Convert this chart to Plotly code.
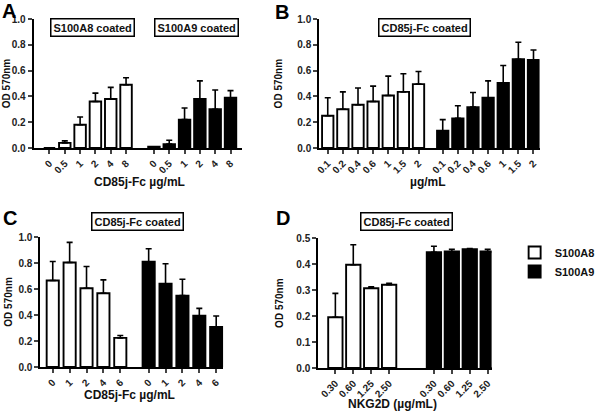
import plotly.graph_objects as go

W, H = 600, 411

# ---- data ----
a_labels = ["0", "0.5", "1", "2", "4", "8"]
a_s100a8 = [0, 0.04, 0.18, 0.36, 0.38, 0.49]
a_s100a8_err = [0, 0.015, 0.06, 0.065, 0.09, 0.055]
a_s100a9 = [0.01, 0.03, 0.22, 0.38, 0.30, 0.39]
a_s100a9_err = [0.0, 0.03, 0.09, 0.14, 0.15, 0.055]

b_labels = ["0.1", "0.2", "0.4", "0.6", "1", "1.5", "2"]
b_s100a8 = [0.25, 0.30, 0.335, 0.36, 0.407, 0.435, 0.495]
b_s100a8_err = [0.14, 0.135, 0.13, 0.12, 0.15, 0.14, 0.098]
b_s100a9 = [0.134, 0.23, 0.317, 0.39, 0.505, 0.688, 0.683]
b_s100a9_err = [0.086, 0.097, 0.113, 0.13, 0.135, 0.132, 0.077]

c_labels = ["0", "1", "2", "4", "6"]
c_s100a8 = [0.665, 0.804, 0.606, 0.567, 0.224]
c_s100a8_err = [0.147, 0.155, 0.167, 0.103, 0.018]
c_s100a9 = [0.81, 0.64, 0.549, 0.394, 0.309]
c_s100a9_err = [0.10, 0.154, 0.126, 0.057, 0.083]

d_labels = ["0.30", "0.60", "1.25", "2.50"]
d_s100a8 = [0.195, 0.397, 0.307, 0.32]
d_s100a8_err = [0.092, 0.077, 0.005, 0.006]
d_s100a9 = [0.445, 0.448, 0.457, 0.448]
d_s100a9_err = [0.023, 0.009, 0.002, 0.009]

FONT = "Arial, Liberation Sans, sans-serif"


def positions(n, gap):
    g1 = [float(i) for i in range(n)]
    g2 = [n + gap + i for i in range(n)]
    return g1, g2


def px_x(p):
    return p / W


def px_y(p):
    return 1 - p / H


panels = [
    # labels, white, white_err, black, black_err, gap, xdom px, ydom px, xrange, yrange, dtick, xtitle, bar width, xtitle pos, ytitle x
    (a_labels, a_s100a8, a_s100a8_err, a_s100a9, a_s100a9_err, 0.82, (35, 253), (148, 19), (-1.04, 12.6), (0, 1.0), 0.2, "CD85j-Fc µg/mL", 0.75, (146, 182), 7),
    (b_labels, b_s100a8, b_s100a8_err, b_s100a9, b_s100a9_err, 0.6, (333, 563), (148, 19), (-0.57, 14.0), (0, 1.0), 0.2, "µg/mL", 0.75, (447, 182), 291),
    (c_labels, c_s100a8, c_s100a8_err, c_s100a9, c_s100a9_err, 0.68, (42, 233), (367, 237), (-0.74, 10.1), (0, 1.0), 0.2, "CD85j-Fc µg/mL", 0.72, (135, 395), 8),
    (d_labels, d_s100a8, d_s100a8_err, d_s100a9, d_s100a9_err, 1.5, (332, 513), (368, 238), (-0.96, 8.72), (0, 0.5), 0.1, "NKG2D (µg/mL)", 0.8, (410, 404), 291),
]

fig = go.Figure()
layout = {}
annotations = []
for k, (labels, wv, we, bv, be, gap, xd, yd, xr, yr, dt, xt, bw, xtp, ytx) in enumerate(panels):
    n = len(labels)
    g1, g2 = positions(n, gap)
    sfx = "" if k == 0 else str(k + 1)
    show = (k == 3)
    fig.add_trace(go.Bar(
        x=g1, y=wv, width=bw, name="S100A8", showlegend=show,
        marker=dict(color="white", line=dict(color="black", width=1.9)),
        error_y=dict(type="data", array=we, arrayminus=[0] * n, symmetric=False,
                     color="black", thickness=1.6, width=3),
        xaxis="x" + sfx, yaxis="y" + sfx))
    fig.add_trace(go.Bar(
        x=g2, y=bv, width=bw, name="S100A9", showlegend=show,
        marker=dict(color="black", line=dict(color="black", width=1.9)),
        error_y=dict(type="data", array=be, arrayminus=[0] * n, symmetric=False,
                     color="black", thickness=1.6, width=3),
        xaxis="x" + sfx, yaxis="y" + sfx))
    layout["xaxis" + sfx] = dict(
        domain=[px_x(xd[0]), px_x(xd[1])], range=list(xr), anchor="y" + sfx,
        tickmode="array", tickvals=g1 + g2, ticktext=labels + labels,
        tickangle=-45, ticks="outside", ticklen=4, tickwidth=1.5, automargin=False,
        showline=True, linecolor="black", linewidth=1.8, showgrid=False, zeroline=False,
        tickfont=dict(size=10, family=FONT, color="#222", weight="bold"),
    )
    layout["yaxis" + sfx] = dict(
        domain=[px_y(yd[0]), px_y(yd[1])], range=list(yr), anchor="x" + sfx,
        dtick=dt, tick0=0, tickformat=".1f", ticks="outside", ticklen=4, tickwidth=1.5,
        automargin=False,
        showline=True, linecolor="black", linewidth=1.8, showgrid=False, zeroline=False,
        tickfont=dict(size=10, family=FONT, color="#222", weight="bold"),
    )
    annotations.append(dict(text=xt, x=px_x(xtp[0]), y=px_y(xtp[1]), xref="paper", yref="paper",
                            xanchor="center", yanchor="middle", showarrow=False,
                            font=dict(size=12, family=FONT, color="#111", weight="bold")))
    annotations.append(dict(text="OD 570nm", x=px_x(ytx), y=(px_y(yd[0]) + px_y(yd[1])) / 2,
                            xref="paper", yref="paper", showarrow=False, textangle=-90,
                            xanchor="center", yanchor="middle",
                            font=dict(size=10, family=FONT, color="#111", weight="bold")))

boxes = [("S100A8 coated", 96, 27), ("S100A9 coated", 205, 27),
         ("CD85j-Fc coated", 443, 27), ("CD85j-Fc coated", 143, 221),
         ("CD85j-Fc coated", 424, 221)]
for txt, x, y in boxes:
    annotations.append(dict(text=txt, x=px_x(x), y=px_y(y), xref="paper", yref="paper",
                            xanchor="center", yanchor="middle",
                            showarrow=False, bordercolor="black", borderwidth=1.5, borderpad=2,
                            bgcolor="white",
                            font=dict(size=11, family=FONT, color="#111", weight="bold")))
letters = [("A", 9, 11), ("B", 294, 12), ("C", 10, 218), ("D", 295, 218)]
for txt, x, y in letters:
    annotations.append(dict(text=txt, x=px_x(x), y=px_y(y), xref="paper", yref="paper",
                            xanchor="center", yanchor="middle", showarrow=False,
                            font=dict(size=20, family=FONT, color="black", weight="bold")))

fig.update_layout(
    width=W, height=H, margin=dict(l=0, r=0, t=0, b=0),
    paper_bgcolor="white", plot_bgcolor="white", barmode="overlay",
    annotations=annotations,
    legend=dict(x=px_x(537), y=px_y(238), xanchor="left", yanchor="top",
                font=dict(size=11, family=FONT, color="#111", weight="bold"),
                bgcolor="rgba(0,0,0,0)", tracegroupgap=0, itemwidth=30),
    **layout,
)

fig.write_html(
    "out.html",
    config={"displayModeBar": False},
    post_script="document.body.style.margin='0px';document.body.style.overflow='hidden';",
)
